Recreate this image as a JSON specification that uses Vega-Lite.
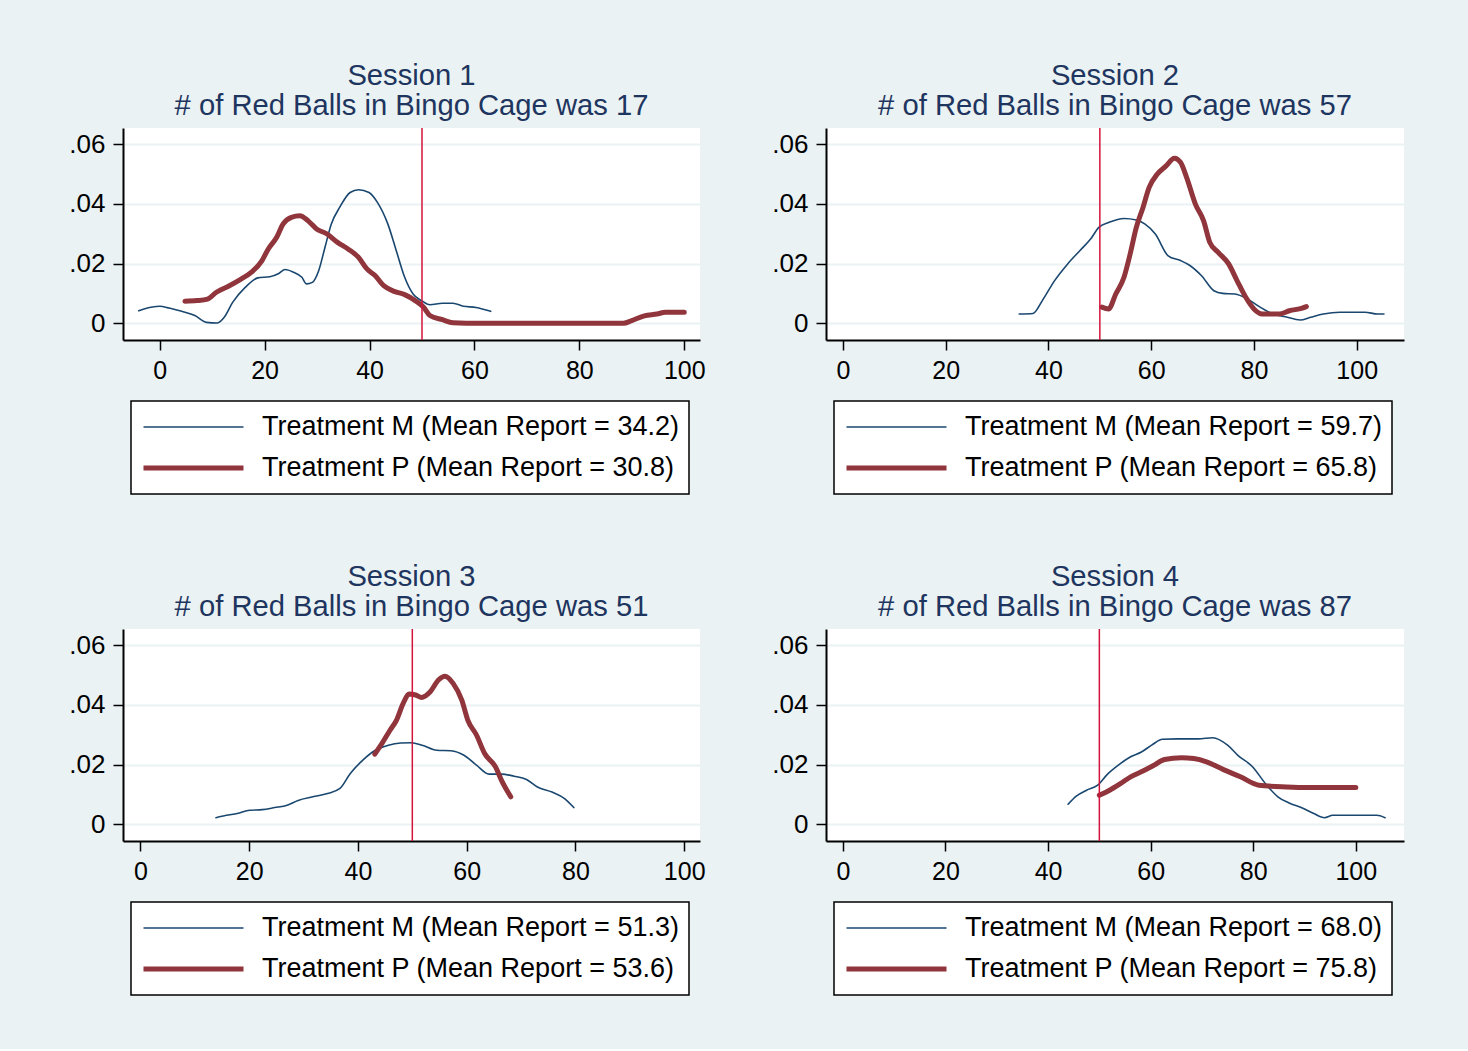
{
  "$schema": "https://vega.github.io/schema/vega-lite/v6.json",
  "background": "#EAF2F3",
  "padding": {"left": 68, "top": 62, "right": 64, "bottom": 53},
  "config": {
    "font": "Liberation Sans",
    "view": {"fill": "white", "stroke": null},
    "axis": {"domainColor": "#000", "domainWidth": 2, "tickColor": "#000", "tickWidth": 1.5, "tickSize": 10, "labelFont": "Liberation Sans", "labelFontSize": 25, "labelColor": "#000", "title": null},
    "axisX": {"grid": false, "labelPadding": 8},
    "axisY": {"grid": true, "gridColor": "#EAF2F3", "gridWidth": 2, "labelPadding": 8, "labelFontSize": 26},
    "title": {"font": "Liberation Sans", "fontSize": 29.2, "fontWeight": "normal", "color": "#1e3560", "lineHeight": 30, "anchor": "middle", "offset": 6},
    "legend": {"labelFont": "Liberation Sans", "labelFontSize": 27, "labelColor": "#000", "labelLimit": 1000, "labelOffset": 16, "symbolSize": 10000, "symbolType": "stroke", "clipHeight": 32, "padding": 10, "rowPadding": 9, "fillColor": "#ffffff", "strokeColor": "#000", "strokeWidth": 1.5, "cornerRadius": 0}
  },
  "datasets": {
    "p1": [
      {"x": -4.0, "y": 0.0042, "s": "Treatment M (Mean Report = 34.2)"},
      {"x": -3.0, "y": 0.0048, "s": "Treatment M (Mean Report = 34.2)"},
      {"x": 0.0, "y": 0.0057, "s": "Treatment M (Mean Report = 34.2)"},
      {"x": 1.8, "y": 0.0051, "s": "Treatment M (Mean Report = 34.2)"},
      {"x": 4.2, "y": 0.0040, "s": "Treatment M (Mean Report = 34.2)"},
      {"x": 6.7, "y": 0.0026, "s": "Treatment M (Mean Report = 34.2)"},
      {"x": 8.9, "y": 0.0003, "s": "Treatment M (Mean Report = 34.2)"},
      {"x": 11.0, "y": 0.0001, "s": "Treatment M (Mean Report = 34.2)"},
      {"x": 12.3, "y": 0.0020, "s": "Treatment M (Mean Report = 34.2)"},
      {"x": 13.9, "y": 0.0070, "s": "Treatment M (Mean Report = 34.2)"},
      {"x": 16.3, "y": 0.0120, "s": "Treatment M (Mean Report = 34.2)"},
      {"x": 18.7, "y": 0.0152, "s": "Treatment M (Mean Report = 34.2)"},
      {"x": 21.0, "y": 0.0156, "s": "Treatment M (Mean Report = 34.2)"},
      {"x": 22.7, "y": 0.0167, "s": "Treatment M (Mean Report = 34.2)"},
      {"x": 23.9, "y": 0.0180, "s": "Treatment M (Mean Report = 34.2)"},
      {"x": 25.5, "y": 0.0171, "s": "Treatment M (Mean Report = 34.2)"},
      {"x": 27.1, "y": 0.0154, "s": "Treatment M (Mean Report = 34.2)"},
      {"x": 28.0, "y": 0.0132, "s": "Treatment M (Mean Report = 34.2)"},
      {"x": 29.1, "y": 0.0137, "s": "Treatment M (Mean Report = 34.2)"},
      {"x": 30.3, "y": 0.0176, "s": "Treatment M (Mean Report = 34.2)"},
      {"x": 31.5, "y": 0.0254, "s": "Treatment M (Mean Report = 34.2)"},
      {"x": 32.7, "y": 0.0332, "s": "Treatment M (Mean Report = 34.2)"},
      {"x": 34.3, "y": 0.0388, "s": "Treatment M (Mean Report = 34.2)"},
      {"x": 36.3, "y": 0.0438, "s": "Treatment M (Mean Report = 34.2)"},
      {"x": 37.9, "y": 0.0447, "s": "Treatment M (Mean Report = 34.2)"},
      {"x": 39.9, "y": 0.0438, "s": "Treatment M (Mean Report = 34.2)"},
      {"x": 41.5, "y": 0.0405, "s": "Treatment M (Mean Report = 34.2)"},
      {"x": 43.5, "y": 0.0332, "s": "Treatment M (Mean Report = 34.2)"},
      {"x": 45.1, "y": 0.0243, "s": "Treatment M (Mean Report = 34.2)"},
      {"x": 46.7, "y": 0.0154, "s": "Treatment M (Mean Report = 34.2)"},
      {"x": 48.3, "y": 0.0098, "s": "Treatment M (Mean Report = 34.2)"},
      {"x": 49.9, "y": 0.0076, "s": "Treatment M (Mean Report = 34.2)"},
      {"x": 51.5, "y": 0.0062, "s": "Treatment M (Mean Report = 34.2)"},
      {"x": 53.9, "y": 0.0067, "s": "Treatment M (Mean Report = 34.2)"},
      {"x": 55.9, "y": 0.0067, "s": "Treatment M (Mean Report = 34.2)"},
      {"x": 57.9, "y": 0.0057, "s": "Treatment M (Mean Report = 34.2)"},
      {"x": 60.3, "y": 0.0053, "s": "Treatment M (Mean Report = 34.2)"},
      {"x": 63.1, "y": 0.0040, "s": "Treatment M (Mean Report = 34.2)"},
      {"x": 4.8, "y": 0.0074, "s": "Treatment P (Mean Report = 30.8)"},
      {"x": 7.1, "y": 0.0076, "s": "Treatment P (Mean Report = 30.8)"},
      {"x": 9.1, "y": 0.0081, "s": "Treatment P (Mean Report = 30.8)"},
      {"x": 10.8, "y": 0.0104, "s": "Treatment P (Mean Report = 30.8)"},
      {"x": 13.1, "y": 0.0124, "s": "Treatment P (Mean Report = 30.8)"},
      {"x": 15.5, "y": 0.0148, "s": "Treatment P (Mean Report = 30.8)"},
      {"x": 17.5, "y": 0.0171, "s": "Treatment P (Mean Report = 30.8)"},
      {"x": 19.5, "y": 0.0210, "s": "Treatment P (Mean Report = 30.8)"},
      {"x": 20.7, "y": 0.0249, "s": "Treatment P (Mean Report = 30.8)"},
      {"x": 22.3, "y": 0.0288, "s": "Treatment P (Mean Report = 30.8)"},
      {"x": 23.5, "y": 0.0332, "s": "Treatment P (Mean Report = 30.8)"},
      {"x": 25.1, "y": 0.0355, "s": "Treatment P (Mean Report = 30.8)"},
      {"x": 26.7, "y": 0.0360, "s": "Treatment P (Mean Report = 30.8)"},
      {"x": 28.3, "y": 0.0343, "s": "Treatment P (Mean Report = 30.8)"},
      {"x": 29.9, "y": 0.0316, "s": "Treatment P (Mean Report = 30.8)"},
      {"x": 31.9, "y": 0.0299, "s": "Treatment P (Mean Report = 30.8)"},
      {"x": 33.9, "y": 0.0271, "s": "Treatment P (Mean Report = 30.8)"},
      {"x": 35.9, "y": 0.0249, "s": "Treatment P (Mean Report = 30.8)"},
      {"x": 37.9, "y": 0.0221, "s": "Treatment P (Mean Report = 30.8)"},
      {"x": 39.5, "y": 0.0182, "s": "Treatment P (Mean Report = 30.8)"},
      {"x": 41.1, "y": 0.0159, "s": "Treatment P (Mean Report = 30.8)"},
      {"x": 42.7, "y": 0.0126, "s": "Treatment P (Mean Report = 30.8)"},
      {"x": 44.7, "y": 0.0107, "s": "Treatment P (Mean Report = 30.8)"},
      {"x": 46.7, "y": 0.0096, "s": "Treatment P (Mean Report = 30.8)"},
      {"x": 48.7, "y": 0.0076, "s": "Treatment P (Mean Report = 30.8)"},
      {"x": 50.3, "y": 0.0054, "s": "Treatment P (Mean Report = 30.8)"},
      {"x": 51.5, "y": 0.0026, "s": "Treatment P (Mean Report = 30.8)"},
      {"x": 53.9, "y": 0.0012, "s": "Treatment P (Mean Report = 30.8)"},
      {"x": 55.9, "y": 0.0002, "s": "Treatment P (Mean Report = 30.8)"},
      {"x": 61.0, "y": 0.0, "s": "Treatment P (Mean Report = 30.8)"},
      {"x": 69.0, "y": 0.0, "s": "Treatment P (Mean Report = 30.8)"},
      {"x": 77.0, "y": 0.0, "s": "Treatment P (Mean Report = 30.8)"},
      {"x": 88.4, "y": 0.0, "s": "Treatment P (Mean Report = 30.8)"},
      {"x": 90.0, "y": 0.0009, "s": "Treatment P (Mean Report = 30.8)"},
      {"x": 92.4, "y": 0.0025, "s": "Treatment P (Mean Report = 30.8)"},
      {"x": 94.8, "y": 0.0031, "s": "Treatment P (Mean Report = 30.8)"},
      {"x": 96.4, "y": 0.0037, "s": "Treatment P (Mean Report = 30.8)"},
      {"x": 100.0, "y": 0.0037, "s": "Treatment P (Mean Report = 30.8)"}
    ],
    "p2": [
      {"x": 34.3, "y": 0.0031, "s": "Treatment M (Mean Report = 59.7)"},
      {"x": 37.0, "y": 0.0033, "s": "Treatment M (Mean Report = 59.7)"},
      {"x": 38.8, "y": 0.0076, "s": "Treatment M (Mean Report = 59.7)"},
      {"x": 41.2, "y": 0.0143, "s": "Treatment M (Mean Report = 59.7)"},
      {"x": 43.7, "y": 0.0198, "s": "Treatment M (Mean Report = 59.7)"},
      {"x": 46.1, "y": 0.0243, "s": "Treatment M (Mean Report = 59.7)"},
      {"x": 48.2, "y": 0.0282, "s": "Treatment M (Mean Report = 59.7)"},
      {"x": 49.8, "y": 0.0321, "s": "Treatment M (Mean Report = 59.7)"},
      {"x": 51.8, "y": 0.0338, "s": "Treatment M (Mean Report = 59.7)"},
      {"x": 54.7, "y": 0.0351, "s": "Treatment M (Mean Report = 59.7)"},
      {"x": 57.1, "y": 0.0346, "s": "Treatment M (Mean Report = 59.7)"},
      {"x": 58.8, "y": 0.0332, "s": "Treatment M (Mean Report = 59.7)"},
      {"x": 60.8, "y": 0.0299, "s": "Treatment M (Mean Report = 59.7)"},
      {"x": 63.3, "y": 0.0226, "s": "Treatment M (Mean Report = 59.7)"},
      {"x": 65.7, "y": 0.0210, "s": "Treatment M (Mean Report = 59.7)"},
      {"x": 67.3, "y": 0.0196, "s": "Treatment M (Mean Report = 59.7)"},
      {"x": 69.8, "y": 0.0159, "s": "Treatment M (Mean Report = 59.7)"},
      {"x": 72.2, "y": 0.0109, "s": "Treatment M (Mean Report = 59.7)"},
      {"x": 73.9, "y": 0.0100, "s": "Treatment M (Mean Report = 59.7)"},
      {"x": 76.3, "y": 0.0098, "s": "Treatment M (Mean Report = 59.7)"},
      {"x": 78.8, "y": 0.0081, "s": "Treatment M (Mean Report = 59.7)"},
      {"x": 81.2, "y": 0.0054, "s": "Treatment M (Mean Report = 59.7)"},
      {"x": 83.7, "y": 0.0031, "s": "Treatment M (Mean Report = 59.7)"},
      {"x": 86.1, "y": 0.0022, "s": "Treatment M (Mean Report = 59.7)"},
      {"x": 89.0, "y": 0.0011, "s": "Treatment M (Mean Report = 59.7)"},
      {"x": 91.0, "y": 0.0020, "s": "Treatment M (Mean Report = 59.7)"},
      {"x": 93.5, "y": 0.0031, "s": "Treatment M (Mean Report = 59.7)"},
      {"x": 96.7, "y": 0.0037, "s": "Treatment M (Mean Report = 59.7)"},
      {"x": 101.6, "y": 0.0037, "s": "Treatment M (Mean Report = 59.7)"},
      {"x": 104.1, "y": 0.0031, "s": "Treatment M (Mean Report = 59.7)"},
      {"x": 105.3, "y": 0.0031, "s": "Treatment M (Mean Report = 59.7)"},
      {"x": 50.4, "y": 0.0054, "s": "Treatment P (Mean Report = 65.8)"},
      {"x": 51.7, "y": 0.0048, "s": "Treatment P (Mean Report = 65.8)"},
      {"x": 53.1, "y": 0.0098, "s": "Treatment P (Mean Report = 65.8)"},
      {"x": 54.7, "y": 0.0154, "s": "Treatment P (Mean Report = 65.8)"},
      {"x": 55.9, "y": 0.0232, "s": "Treatment P (Mean Report = 65.8)"},
      {"x": 57.1, "y": 0.0321, "s": "Treatment P (Mean Report = 65.8)"},
      {"x": 58.4, "y": 0.0388, "s": "Treatment P (Mean Report = 65.8)"},
      {"x": 59.6, "y": 0.0455, "s": "Treatment P (Mean Report = 65.8)"},
      {"x": 61.2, "y": 0.0500, "s": "Treatment P (Mean Report = 65.8)"},
      {"x": 62.9, "y": 0.0527, "s": "Treatment P (Mean Report = 65.8)"},
      {"x": 64.5, "y": 0.0553, "s": "Treatment P (Mean Report = 65.8)"},
      {"x": 65.7, "y": 0.0539, "s": "Treatment P (Mean Report = 65.8)"},
      {"x": 66.9, "y": 0.0488, "s": "Treatment P (Mean Report = 65.8)"},
      {"x": 68.6, "y": 0.0399, "s": "Treatment P (Mean Report = 65.8)"},
      {"x": 70.2, "y": 0.0343, "s": "Treatment P (Mean Report = 65.8)"},
      {"x": 71.4, "y": 0.0271, "s": "Treatment P (Mean Report = 65.8)"},
      {"x": 73.0, "y": 0.0238, "s": "Treatment P (Mean Report = 65.8)"},
      {"x": 75.1, "y": 0.0198, "s": "Treatment P (Mean Report = 65.8)"},
      {"x": 76.7, "y": 0.0143, "s": "Treatment P (Mean Report = 65.8)"},
      {"x": 78.4, "y": 0.0087, "s": "Treatment P (Mean Report = 65.8)"},
      {"x": 80.0, "y": 0.0048, "s": "Treatment P (Mean Report = 65.8)"},
      {"x": 81.6, "y": 0.0031, "s": "Treatment P (Mean Report = 65.8)"},
      {"x": 84.9, "y": 0.0031, "s": "Treatment P (Mean Report = 65.8)"},
      {"x": 86.9, "y": 0.0042, "s": "Treatment P (Mean Report = 65.8)"},
      {"x": 89.4, "y": 0.0051, "s": "Treatment P (Mean Report = 65.8)"},
      {"x": 90.2, "y": 0.0056, "s": "Treatment P (Mean Report = 65.8)"}
    ],
    "p3": [
      {"x": 13.9, "y": 0.0022, "s": "Treatment M (Mean Report = 51.3)"},
      {"x": 15.8, "y": 0.0030, "s": "Treatment M (Mean Report = 51.3)"},
      {"x": 17.8, "y": 0.0036, "s": "Treatment M (Mean Report = 51.3)"},
      {"x": 20.1, "y": 0.0047, "s": "Treatment M (Mean Report = 51.3)"},
      {"x": 22.4, "y": 0.0049, "s": "Treatment M (Mean Report = 51.3)"},
      {"x": 24.7, "y": 0.0056, "s": "Treatment M (Mean Report = 51.3)"},
      {"x": 27.0, "y": 0.0064, "s": "Treatment M (Mean Report = 51.3)"},
      {"x": 29.0, "y": 0.0080, "s": "Treatment M (Mean Report = 51.3)"},
      {"x": 31.7, "y": 0.0092, "s": "Treatment M (Mean Report = 51.3)"},
      {"x": 34.4, "y": 0.0103, "s": "Treatment M (Mean Report = 51.3)"},
      {"x": 36.7, "y": 0.0120, "s": "Treatment M (Mean Report = 51.3)"},
      {"x": 38.6, "y": 0.0170, "s": "Treatment M (Mean Report = 51.3)"},
      {"x": 40.9, "y": 0.0215, "s": "Treatment M (Mean Report = 51.3)"},
      {"x": 43.2, "y": 0.0248, "s": "Treatment M (Mean Report = 51.3)"},
      {"x": 45.6, "y": 0.0265, "s": "Treatment M (Mean Report = 51.3)"},
      {"x": 47.9, "y": 0.0272, "s": "Treatment M (Mean Report = 51.3)"},
      {"x": 49.8, "y": 0.0273, "s": "Treatment M (Mean Report = 51.3)"},
      {"x": 51.8, "y": 0.0265, "s": "Treatment M (Mean Report = 51.3)"},
      {"x": 54.5, "y": 0.0248, "s": "Treatment M (Mean Report = 51.3)"},
      {"x": 57.1, "y": 0.0246, "s": "Treatment M (Mean Report = 51.3)"},
      {"x": 59.5, "y": 0.0231, "s": "Treatment M (Mean Report = 51.3)"},
      {"x": 61.8, "y": 0.0198, "s": "Treatment M (Mean Report = 51.3)"},
      {"x": 64.1, "y": 0.0168, "s": "Treatment M (Mean Report = 51.3)"},
      {"x": 66.4, "y": 0.0168, "s": "Treatment M (Mean Report = 51.3)"},
      {"x": 68.7, "y": 0.0161, "s": "Treatment M (Mean Report = 51.3)"},
      {"x": 71.0, "y": 0.0150, "s": "Treatment M (Mean Report = 51.3)"},
      {"x": 73.0, "y": 0.0125, "s": "Treatment M (Mean Report = 51.3)"},
      {"x": 75.7, "y": 0.0108, "s": "Treatment M (Mean Report = 51.3)"},
      {"x": 78.0, "y": 0.0086, "s": "Treatment M (Mean Report = 51.3)"},
      {"x": 79.7, "y": 0.0056, "s": "Treatment M (Mean Report = 51.3)"},
      {"x": 43.1, "y": 0.0235, "s": "Treatment P (Mean Report = 53.6)"},
      {"x": 44.4, "y": 0.0270, "s": "Treatment P (Mean Report = 53.6)"},
      {"x": 45.9, "y": 0.0315, "s": "Treatment P (Mean Report = 53.6)"},
      {"x": 47.1, "y": 0.0349, "s": "Treatment P (Mean Report = 53.6)"},
      {"x": 48.3, "y": 0.0404, "s": "Treatment P (Mean Report = 53.6)"},
      {"x": 49.4, "y": 0.0436, "s": "Treatment P (Mean Report = 53.6)"},
      {"x": 50.6, "y": 0.0433, "s": "Treatment P (Mean Report = 53.6)"},
      {"x": 51.7, "y": 0.0425, "s": "Treatment P (Mean Report = 53.6)"},
      {"x": 53.3, "y": 0.0444, "s": "Treatment P (Mean Report = 53.6)"},
      {"x": 54.8, "y": 0.0483, "s": "Treatment P (Mean Report = 53.6)"},
      {"x": 56.0, "y": 0.0496, "s": "Treatment P (Mean Report = 53.6)"},
      {"x": 57.5, "y": 0.0472, "s": "Treatment P (Mean Report = 53.6)"},
      {"x": 59.1, "y": 0.0416, "s": "Treatment P (Mean Report = 53.6)"},
      {"x": 60.2, "y": 0.0349, "s": "Treatment P (Mean Report = 53.6)"},
      {"x": 61.8, "y": 0.0299, "s": "Treatment P (Mean Report = 53.6)"},
      {"x": 63.3, "y": 0.0237, "s": "Treatment P (Mean Report = 53.6)"},
      {"x": 65.3, "y": 0.0192, "s": "Treatment P (Mean Report = 53.6)"},
      {"x": 66.4, "y": 0.0147, "s": "Treatment P (Mean Report = 53.6)"},
      {"x": 68.1, "y": 0.0092, "s": "Treatment P (Mean Report = 53.6)"}
    ],
    "p4": [
      {"x": 43.9, "y": 0.0067, "s": "Treatment M (Mean Report = 68.0)"},
      {"x": 45.5, "y": 0.0094, "s": "Treatment M (Mean Report = 68.0)"},
      {"x": 47.5, "y": 0.0114, "s": "Treatment M (Mean Report = 68.0)"},
      {"x": 49.6, "y": 0.0130, "s": "Treatment M (Mean Report = 68.0)"},
      {"x": 51.6, "y": 0.0168, "s": "Treatment M (Mean Report = 68.0)"},
      {"x": 53.7, "y": 0.0198, "s": "Treatment M (Mean Report = 68.0)"},
      {"x": 56.1, "y": 0.0226, "s": "Treatment M (Mean Report = 68.0)"},
      {"x": 58.2, "y": 0.0242, "s": "Treatment M (Mean Report = 68.0)"},
      {"x": 60.2, "y": 0.0265, "s": "Treatment M (Mean Report = 68.0)"},
      {"x": 62.3, "y": 0.0285, "s": "Treatment M (Mean Report = 68.0)"},
      {"x": 65.2, "y": 0.0286, "s": "Treatment M (Mean Report = 68.0)"},
      {"x": 69.3, "y": 0.0286, "s": "Treatment M (Mean Report = 68.0)"},
      {"x": 72.1, "y": 0.0290, "s": "Treatment M (Mean Report = 68.0)"},
      {"x": 75.0, "y": 0.0265, "s": "Treatment M (Mean Report = 68.0)"},
      {"x": 77.0, "y": 0.0231, "s": "Treatment M (Mean Report = 68.0)"},
      {"x": 79.9, "y": 0.0192, "s": "Treatment M (Mean Report = 68.0)"},
      {"x": 82.4, "y": 0.0136, "s": "Treatment M (Mean Report = 68.0)"},
      {"x": 84.8, "y": 0.0092, "s": "Treatment M (Mean Report = 68.0)"},
      {"x": 86.9, "y": 0.0072, "s": "Treatment M (Mean Report = 68.0)"},
      {"x": 89.8, "y": 0.0053, "s": "Treatment M (Mean Report = 68.0)"},
      {"x": 91.8, "y": 0.0036, "s": "Treatment M (Mean Report = 68.0)"},
      {"x": 93.9, "y": 0.0022, "s": "Treatment M (Mean Report = 68.0)"},
      {"x": 95.5, "y": 0.0030, "s": "Treatment M (Mean Report = 68.0)"},
      {"x": 98.8, "y": 0.0030, "s": "Treatment M (Mean Report = 68.0)"},
      {"x": 104.1, "y": 0.0030, "s": "Treatment M (Mean Report = 68.0)"},
      {"x": 105.7, "y": 0.0022, "s": "Treatment M (Mean Report = 68.0)"},
      {"x": 50.0, "y": 0.0097, "s": "Treatment P (Mean Report = 75.8)"},
      {"x": 52.0, "y": 0.0114, "s": "Treatment P (Mean Report = 75.8)"},
      {"x": 54.1, "y": 0.0136, "s": "Treatment P (Mean Report = 75.8)"},
      {"x": 56.1, "y": 0.0159, "s": "Treatment P (Mean Report = 75.8)"},
      {"x": 58.6, "y": 0.0179, "s": "Treatment P (Mean Report = 75.8)"},
      {"x": 60.7, "y": 0.0198, "s": "Treatment P (Mean Report = 75.8)"},
      {"x": 62.7, "y": 0.0217, "s": "Treatment P (Mean Report = 75.8)"},
      {"x": 66.0, "y": 0.0223, "s": "Treatment P (Mean Report = 75.8)"},
      {"x": 68.4, "y": 0.0220, "s": "Treatment P (Mean Report = 75.8)"},
      {"x": 70.9, "y": 0.0209, "s": "Treatment P (Mean Report = 75.8)"},
      {"x": 74.2, "y": 0.0183, "s": "Treatment P (Mean Report = 75.8)"},
      {"x": 77.5, "y": 0.0159, "s": "Treatment P (Mean Report = 75.8)"},
      {"x": 81.1, "y": 0.0131, "s": "Treatment P (Mean Report = 75.8)"},
      {"x": 86.5, "y": 0.0125, "s": "Treatment P (Mean Report = 75.8)"},
      {"x": 90.6, "y": 0.0123, "s": "Treatment P (Mean Report = 75.8)"},
      {"x": 100.0, "y": 0.0123, "s": "Treatment P (Mean Report = 75.8)"}
    ],
    "ref": [{"ref": 50}]
  },
  "bounds": "flush",
  "columns": 2,
  "spacing": {"row": 289, "column": 126},
  "resolve": {"scale": {"color": "independent", "strokeWidth": "independent"}, "legend": {"color": "independent", "strokeWidth": "independent"}},
  "concat": [
    {
      "width": 577, "height": 212,
      "title": {"text": ["Session 1", "# of Red Balls in Bingo Cage was 17"]},
      "layer": [
        {
          "data": {"name": "p1"},
          "mark": {"type": "line", "interpolate": "monotone", "strokeCap": "round", "strokeJoin": "round"},
          "encoding": {
            "x": {"field": "x", "type": "quantitative", "scale": {"domain": [-7, 103], "nice": false, "zero": false}, "axis": {"values": [0, 20, 40, 60, 80, 100]}},
            "y": {"field": "y", "type": "quantitative", "scale": {"domain": [-0.0056, 0.0654], "nice": false, "zero": false}, "axis": {"values": [0, 0.02, 0.04, 0.06], "labelExpr": "datum.value == 0 ? '0' : replace(format(datum.value, '.2f'), '0.', '.')"}},
            "color": {"field": "s", "type": "nominal", "scale": {"domain": ["Treatment M (Mean Report = 34.2)", "Treatment P (Mean Report = 30.8)"], "range": ["#1a476f", "#90353b"]}, "legend": {"orient": "none", "legendX": 8, "legendY": 273, "title": null, "direction": "vertical"}},
            "strokeWidth": {"field": "s", "type": "nominal", "scale": {"domain": ["Treatment M (Mean Report = 34.2)", "Treatment P (Mean Report = 30.8)"], "range": [1.6, 5]}, "legend": {"orient": "none", "legendX": 8, "legendY": 273, "title": null, "direction": "vertical"}}
          }
        },
        {
          "data": {"name": "ref"},
          "mark": {"type": "rule", "color": "#d2143c", "strokeWidth": 1.5},
          "encoding": {"x": {"field": "ref", "type": "quantitative"}}
        }
      ]
    },
    {
      "width": 578, "height": 212,
      "title": {"text": ["Session 2", "# of Red Balls in Bingo Cage was 57"]},
      "layer": [
        {
          "data": {"name": "p2"},
          "mark": {"type": "line", "interpolate": "monotone", "strokeCap": "round", "strokeJoin": "round"},
          "encoding": {
            "x": {"field": "x", "type": "quantitative", "scale": {"domain": [-3.3, 109.2], "nice": false, "zero": false}, "axis": {"values": [0, 20, 40, 60, 80, 100]}},
            "y": {"field": "y", "type": "quantitative", "scale": {"domain": [-0.0056, 0.0654], "nice": false, "zero": false}, "axis": {"values": [0, 0.02, 0.04, 0.06], "labelExpr": "datum.value == 0 ? '0' : replace(format(datum.value, '.2f'), '0.', '.')"}},
            "color": {"field": "s", "type": "nominal", "scale": {"domain": ["Treatment M (Mean Report = 59.7)", "Treatment P (Mean Report = 65.8)"], "range": ["#1a476f", "#90353b"]}, "legend": {"orient": "none", "legendX": 8, "legendY": 273, "title": null, "direction": "vertical"}},
            "strokeWidth": {"field": "s", "type": "nominal", "scale": {"domain": ["Treatment M (Mean Report = 59.7)", "Treatment P (Mean Report = 65.8)"], "range": [1.6, 5]}, "legend": {"orient": "none", "legendX": 8, "legendY": 273, "title": null, "direction": "vertical"}}
          }
        },
        {
          "data": {"name": "ref"},
          "mark": {"type": "rule", "color": "#d2143c", "strokeWidth": 1.5},
          "encoding": {"x": {"field": "ref", "type": "quantitative"}}
        }
      ]
    },
    {
      "width": 577, "height": 212,
      "title": {"text": ["Session 3", "# of Red Balls in Bingo Cage was 51"]},
      "layer": [
        {
          "data": {"name": "p3"},
          "mark": {"type": "line", "interpolate": "monotone", "strokeCap": "round", "strokeJoin": "round"},
          "encoding": {
            "x": {"field": "x", "type": "quantitative", "scale": {"domain": [-3.2, 102.9], "nice": false, "zero": false}, "axis": {"values": [0, 20, 40, 60, 80, 100]}},
            "y": {"field": "y", "type": "quantitative", "scale": {"domain": [-0.0056, 0.0654], "nice": false, "zero": false}, "axis": {"values": [0, 0.02, 0.04, 0.06], "labelExpr": "datum.value == 0 ? '0' : replace(format(datum.value, '.2f'), '0.', '.')"}},
            "color": {"field": "s", "type": "nominal", "scale": {"domain": ["Treatment M (Mean Report = 51.3)", "Treatment P (Mean Report = 53.6)"], "range": ["#1a476f", "#90353b"]}, "legend": {"orient": "none", "legendX": 8, "legendY": 273, "title": null, "direction": "vertical"}},
            "strokeWidth": {"field": "s", "type": "nominal", "scale": {"domain": ["Treatment M (Mean Report = 51.3)", "Treatment P (Mean Report = 53.6)"], "range": [1.6, 5]}, "legend": {"orient": "none", "legendX": 8, "legendY": 273, "title": null, "direction": "vertical"}}
          }
        },
        {
          "data": {"name": "ref"},
          "mark": {"type": "rule", "color": "#d2143c", "strokeWidth": 1.5},
          "encoding": {"x": {"field": "ref", "type": "quantitative"}}
        }
      ]
    },
    {
      "width": 578, "height": 212,
      "title": {"text": ["Session 4", "# of Red Balls in Bingo Cage was 87"]},
      "layer": [
        {
          "data": {"name": "p4"},
          "mark": {"type": "line", "interpolate": "monotone", "strokeCap": "round", "strokeJoin": "round"},
          "encoding": {
            "x": {"field": "x", "type": "quantitative", "scale": {"domain": [-3.3, 109.4], "nice": false, "zero": false}, "axis": {"values": [0, 20, 40, 60, 80, 100]}},
            "y": {"field": "y", "type": "quantitative", "scale": {"domain": [-0.0056, 0.0654], "nice": false, "zero": false}, "axis": {"values": [0, 0.02, 0.04, 0.06], "labelExpr": "datum.value == 0 ? '0' : replace(format(datum.value, '.2f'), '0.', '.')"}},
            "color": {"field": "s", "type": "nominal", "scale": {"domain": ["Treatment M (Mean Report = 68.0)", "Treatment P (Mean Report = 75.8)"], "range": ["#1a476f", "#90353b"]}, "legend": {"orient": "none", "legendX": 8, "legendY": 273, "title": null, "direction": "vertical"}},
            "strokeWidth": {"field": "s", "type": "nominal", "scale": {"domain": ["Treatment M (Mean Report = 68.0)", "Treatment P (Mean Report = 75.8)"], "range": [1.6, 5]}, "legend": {"orient": "none", "legendX": 8, "legendY": 273, "title": null, "direction": "vertical"}}
          }
        },
        {
          "data": {"name": "ref"},
          "mark": {"type": "rule", "color": "#d2143c", "strokeWidth": 1.5},
          "encoding": {"x": {"field": "ref", "type": "quantitative"}}
        }
      ]
    }
  ]
}
